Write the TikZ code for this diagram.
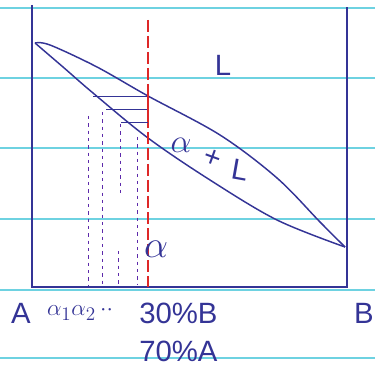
\documentclass[tikz,border=0pt]{standalone}
\usepackage{fontspec}
\setmainfont{Liberation Sans}
\usepackage{xcolor}
\usetikzlibrary{positioning,calc}
\definecolor{ink}{RGB}{52,52,150}
\definecolor{redink}{RGB}{222,40,40}
\definecolor{ruled}{RGB}{110,210,225}

\begin{document}
\begin{tikzpicture}[x=0.75pt,y=-0.75pt,
  inkline/.style={draw=ink, line width=1.1pt},
  tieline/.style={draw=ink, line width=0.6pt},
  dropline/.style={draw=ink!80!magenta, line width=0.7pt, dash pattern=on 2.5pt off 3pt},
  hand/.style={text=ink, inner sep=0pt, font=\fontsize{22}{22}\selectfont},
  handbig/.style={text=ink, inner sep=0pt, font=\fontsize{26}{26}\selectfont},
  handsmall/.style={text=ink, inner sep=0pt, font=\fontsize{19}{19}\selectfont}]
\useasboundingbox (0,0) rectangle (375,377);
% ruled paper
\foreach \y in {8,78,148,219,290,358}
  \draw[ruled, line width=0.8pt] (0,\y) -- (375,\y);
% frame
\coordinate (tl) at (32,5);
\coordinate (bl) at (32,287);
\coordinate (br) at (347,287);
\coordinate (tr) at (347,7);
\draw[inkline] (tl) -- (bl) -- (br) -- (tr);
% lens ends
\coordinate (meltA) at (35,43);
\coordinate (meltB) at (345,247);
% liquidus and solidus
\draw[inkline] plot[smooth, tension=0.55] coordinates {(meltA) (50,45) (97,67) (148,96) (220,135) (277,178) (320,222) (meltB)};
\draw[inkline] plot[smooth, tension=0.55] coordinates {(meltA) (63,67) (93,93) (148,138) (210,180) (277,220) (meltB)};
% composition line
\coordinate (ctop) at (148,20);
\coordinate (cbot) at (148,287);
\draw[redink, line width=1.2pt, dash pattern=on 9pt off 3pt] (ctop) -- (cbot);
% tie lines
\coordinate (t1) at (148,96);
\coordinate (t2) at (148,109);
\coordinate (t3) at (148,122);
\draw[tieline] (93,96) -- (t1);
\draw[tieline] (106,109) -- (t2);
\draw[tieline] (121,122) -- (t3);
\draw[redink, line width=1pt] (t1) -- (t3);
% drop lines to the axis
\draw[dropline] (88,116) -- (88,285);
\draw[dropline] (102,112) -- (102,285);
\draw[dropline] (120,124) -- (120,196);
\draw[dropline] (118,251) -- (118,285);
\draw[dropline] (137,137) -- (137,285);
% phase labels
\node[hand] (liq) at (223,65) {L};
\node[handbig] (mixa) at (181,145) {$\alpha$};
\node[hand, rotate=-20] (mixp) at (212,158) {+};
\node[hand, rotate=-10] (mixl) at (240,170) {L};
\node[handbig, scale=1.15] (sol) at (156,249) {$\alpha$};
% axis labels
\node[hand] (endA) at (21,313) {A};
\node[hand] (endB) at (364,313) {B};
\node[handsmall] (a1) at (80,313) {$\alpha_1\alpha_2$\,$\cdot\cdot$};
\node[hand, anchor=west] (pB) at (139,313) {30\%B};
\node[hand, anchor=west] (pA) at (139,351) {70\%A};
\end{tikzpicture}
\end{document}
